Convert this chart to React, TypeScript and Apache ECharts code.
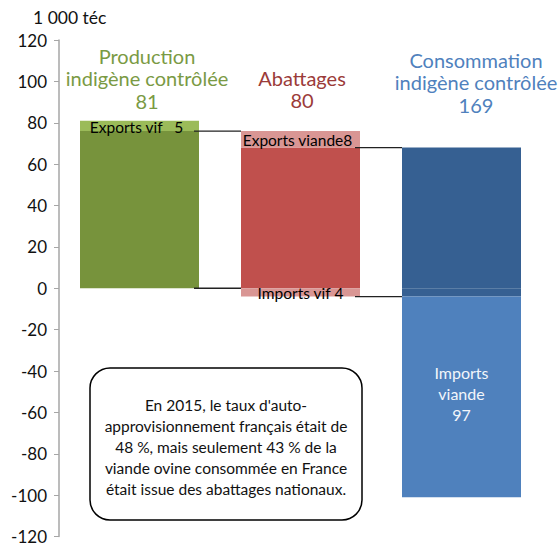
import React, { useEffect, useRef } from "react";
import * as echarts from "echarts";

// ---- Data (1 000 téc) ----
const categories = ["Production indigène contrôlée", "Abattages", "Consommation indigène contrôlée"];
const totals = [81, 80, 169];
const domestic = [76, 68, 68]; // main segment above 0
const upper: (number | string)[] = [5, 8, "-"]; // exports vif / exports viande
const lowerA: (number | string)[] = ["-", -4, -4]; // imports vif / part of consommation
const lowerB: (number | string)[] = ["-", "-", -97]; // imports viande
const upperLabels = ["Exports vif   5", "Exports viande8", ""];
const lowerALabels = ["", "Imports vif 4", ""];
const lowerBLabels = ["", "", "Imports\nviande\n97"];
const yTicks = { min: -120, max: 120, interval: 20 };
const connectors = [
  [0, 1, domestic[0]],
  [0, 1, 0],
  [1, 2, domestic[1]],
  [1, 2, lowerA[1] as number],
];
const note =
  "En 2015, le taux d'auto-\napprovisionnement français était de\n48 %, mais seulement 43 % de la\nviande ovine consommée en France\nétait issue des abattages nationaux.";

// ---- Styles ----
const FONT = "Lato";
const darkColors = ["#77933C", "#C0504D", "#366092"];
const lightColors = ["#9BBB59", "#D99694", "#4F81BD"];
const titleColors = ["#7A9A44", "#9B3B39", "#4F81BD"];
const BAR_WIDTH = 119;

export default function App() {
  const ref = useRef<HTMLDivElement>(null);
  useEffect(() => {
    if (!ref.current) return;
    const chart = echarts.init(ref.current, undefined, { renderer: "svg" });
    const itemColored = (vals: (number | string)[], colors: string[]) =>
      vals.map((v, i) => ({ value: v, itemStyle: { color: colors[i] } }));

    chart.setOption({
      animation: false,
      textStyle: { fontFamily: FONT },
      grid: { left: 59, right: 18, top: 40, bottom: 6, containLabel: false },
      xAxis: { type: "category", data: categories, show: false },
      yAxis: {
        type: "value",
        min: yTicks.min,
        max: yTicks.max,
        interval: yTicks.interval,
        axisLine: { show: true, lineStyle: { color: "#a6a6a6", width: 1.5 } },
        axisTick: { show: true, length: 5, lineStyle: { color: "#a6a6a6" } },
        splitLine: { show: false },
        axisLabel: { fontSize: 17, color: "#111", margin: 12, fontFamily: FONT },
      },
      series: [
        {
          type: "bar",
          stack: "s",
          barWidth: BAR_WIDTH,
          data: itemColored(domestic, darkColors),
        },
        {
          type: "bar",
          stack: "s",
          barWidth: BAR_WIDTH,
          data: itemColored(upper, [lightColors[0], lightColors[1], lightColors[2]]),
          label: {
            show: true,
            position: "inside",
            color: "#000",
            fontSize: 15.5,
            fontFamily: FONT,
            offset: [-3, 1],
            formatter: (p: any) => upperLabels[p.dataIndex],
          },
        },
        {
          type: "bar",
          stack: "s",
          barWidth: BAR_WIDTH,
          data: itemColored(lowerA, [lightColors[0], lightColors[1], darkColors[2]]),
          label: {
            show: true,
            position: "inside",
            color: "#000",
            fontSize: 15.5,
            fontFamily: FONT,
            offset: [0, 1],
            formatter: (p: any) => lowerALabels[p.dataIndex],
          },
        },
        {
          type: "bar",
          stack: "s",
          barWidth: BAR_WIDTH,
          data: itemColored(lowerB, lightColors),
          label: {
            show: true,
            position: "inside",
            color: "#F2F6FB",
            fontSize: 16,
            lineHeight: 21,
            fontFamily: FONT,
            offset: [0, -3],
            formatter: (p: any) => lowerBLabels[p.dataIndex],
          },
        },
        {
          type: "custom",
          z: 5,
          encode: { x: 0, y: 2 },
          data: connectors,
          renderItem: (params: any, api: any) => {
            const from = api.value(0);
            const to = api.value(1);
            const v = api.value(2);
            const p1 = api.coord([from, v]);
            const p2 = api.coord([to, v]);
            const half = BAR_WIDTH / 2;
            return {
              type: "line",
              shape: { x1: p1[0] + half - 5, y1: p1[1], x2: p2[0] - half, y2: p2[1] },
              style: { stroke: "#222", lineWidth: 1.3 },
            };
          },
        },
      ],
      graphic: [
        {
          type: "text",
          left: 33,
          top: 8,
          style: { text: "1 000 téc", fontSize: 17.5, fontFamily: FONT, fill: "#111" },
        },
        {
          type: "text",
          x: 147,
          y: 78,
          style: {
            text: `Production\nindigène contrôlée\n${totals[0]}`,
            fontSize: 20,
            lineHeight: 22.5,
            fontFamily: FONT,
            fill: titleColors[0],
            align: "center",
            verticalAlign: "middle",
          },
        },
        {
          type: "text",
          x: 302,
          y: 89,
          style: {
            text: `Abattages\n${totals[1]}`,
            fontSize: 20,
            lineHeight: 22.5,
            fontFamily: FONT,
            fill: titleColors[1],
            align: "center",
            verticalAlign: "middle",
          },
        },
        {
          type: "text",
          x: 476,
          y: 82,
          style: {
            text: `Consommation\nindigène contrôlée\n${totals[2]}`,
            fontSize: 20,
            lineHeight: 22.5,
            fontFamily: FONT,
            fill: titleColors[2],
            align: "center",
            verticalAlign: "middle",
          },
        },
        {
          type: "rect",
          shape: { x: 90, y: 368, width: 272, height: 152, r: 20 },
          style: { fill: "#fff", stroke: "#000", lineWidth: 1.5 },
          z: 10,
        },
        {
          type: "text",
          x: 226,
          y: 447,
          z: 11,
          style: {
            text: note,
            fontSize: 15.5,
            lineHeight: 21,
            fontFamily: FONT,
            fill: "#111",
            align: "center",
            verticalAlign: "middle",
          },
        },
      ],
    });
    return () => chart.dispose();
  }, []);
  return (
    <div
      ref={ref}
      style={{ position: "absolute", left: 0, top: 0, width: 560, height: 545 }}
    />
  );
}
